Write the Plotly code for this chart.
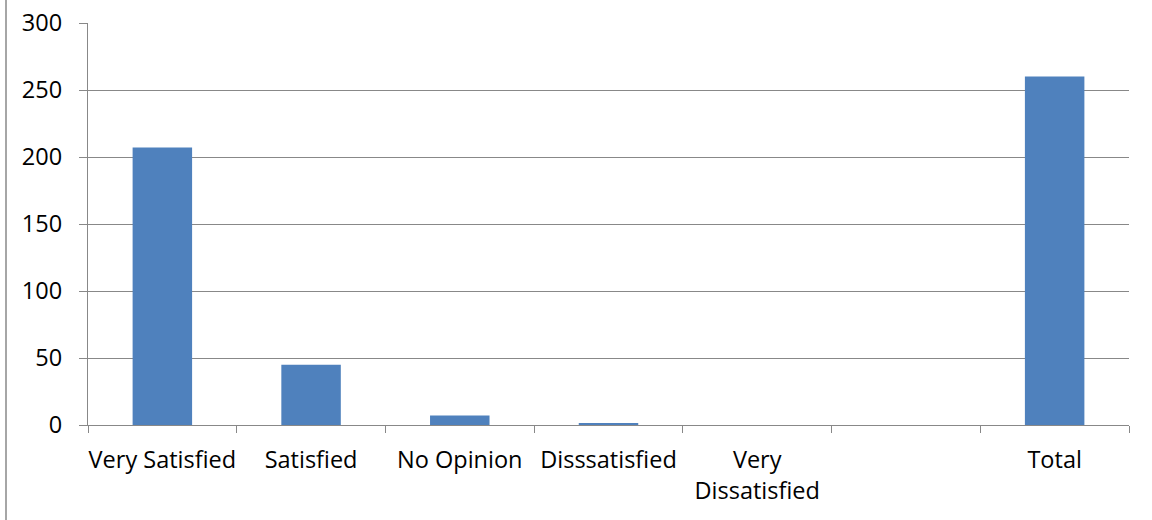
import plotly.graph_objects as go

categories = ["Very Satisfied", "Satisfied", "No Opinion", "Disssatisfied",
              "Very<br>Dissatisfied", " ", "Total"]
values = [207, 45, 7, 1, 0, 0, 260]
y_ticks = [0, 50, 100, 150, 200, 250, 300]

W, H = 1152, 520
ML, MR, MT, MB = 88, 23, 23, 95
FONT = "Open Sans"
FS = 23.5
GRAY = "#888888"

fig = go.Figure(go.Bar(
    x=categories, y=values,
    marker=dict(color="#4F81BD", line=dict(width=0)),
    width=0.4,
))

fig.update_layout(
    width=W, height=H,
    margin=dict(l=ML, r=MR, t=MT, b=MB, pad=0, autoexpand=False),
    paper_bgcolor="white", plot_bgcolor="white",
    showlegend=False,
    font=dict(family=FONT, size=FS, color="#000000"),
    xaxis=dict(
        type="category",
        automargin=False,
        tickangle=0,
        showgrid=False,
        showline=True, linecolor=GRAY, linewidth=1.3,
        ticks="outside", tickson="boundaries", ticklen=7,
        tickcolor=GRAY, tickwidth=1.3,
        tickfont=dict(family=FONT, size=FS, color="#000"),
        ticklabelstandoff=14,
    ),
    yaxis=dict(
        range=[0, 300],
        automargin=False,
        tickvals=y_ticks,
        showgrid=True, gridcolor=GRAY, gridwidth=1.3,
        showline=True, linecolor=GRAY, linewidth=1.3,
        zeroline=False,
        ticks="outside", ticklen=8, tickcolor=GRAY, tickwidth=1.3,
        tickfont=dict(family=FONT, size=FS, color="#000"),
        ticklabelstandoff=12,
    ),
    shapes=[dict(
        type="line", xref="paper", yref="paper",
        x0=(6 - ML) / (W - ML - MR), x1=(6 - ML) / (W - ML - MR),
        y0=-MB / (H - MT - MB) - 0.1, y1=1 + MT / (H - MT - MB) + 0.1,
        line=dict(color=GRAY, width=1.5),
    )],
)

fig.write_html("out.html")
